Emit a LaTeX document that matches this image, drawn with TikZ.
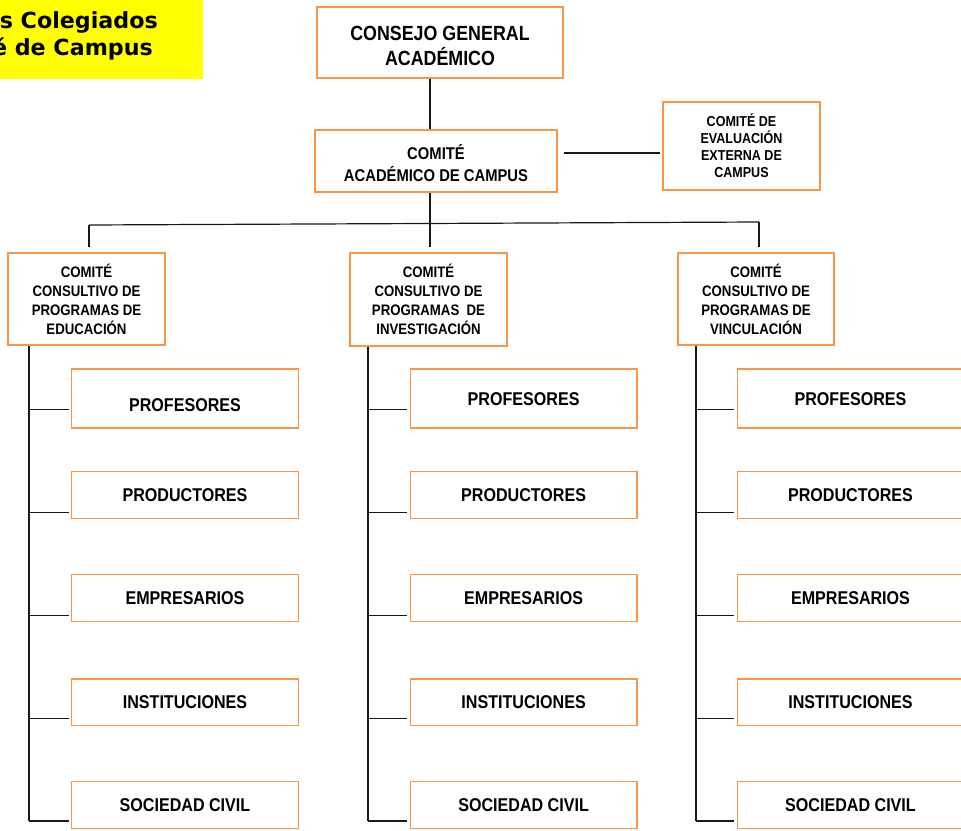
\documentclass[tikz,border=0pt]{standalone}
\usepackage{fontspec}
\newfontfamily\narrowsans[FakeStretch=0.87]{Liberation Sans}
\newfontfamily\titlesans{DejaVu Sans}
\definecolor{boxorange}{RGB}{247,150,70}
\definecolor{banner}{RGB}{255,255,0}
\begin{document}
\begin{tikzpicture}[x=1pt,y=-1pt,
  orgbox/.style={draw=boxorange, line width=1.3pt, fill=white, inner sep=0pt,
                 align=center, font=\narrowsans\bfseries},
  leafbox/.style={orgbox, minimum width=226.5pt,
                  font=\narrowsans\bfseries\fontsize{18.5}{20}\selectfont,
                  text height=13.2pt, text depth=0pt},
  midbox/.style={orgbox, minimum width=157pt, minimum height=92pt,
                 font=\narrowsans\bfseries\fontsize{15.2}{19}\selectfont},
  link/.style={line width=1.2pt, draw=black!90},
  cell1-1/.style={text height=25.2pt}]

\clip (0,0) rectangle (961,830);

% banner in the upper left corner
\fill[banner] (0,0) rectangle (203,79);
\begin{scope}
  \clip (0,0) rectangle (203,79);
  \node[anchor=base east, inner sep=0pt,
        font=\titlesans\bfseries\fontsize{22.2}{26}\selectfont] (ban1) at (158,28.3) {s Colegiados};
  \node[anchor=base east, inner sep=0pt,
        font=\titlesans\bfseries\fontsize{22.2}{26}\selectfont] (ban2) at (153,55) {é de Campus};
\end{scope}

% reference points for the connectors
\coordinate (spine) at (430,0);
\coordinate (evy) at (0,153);
\coordinate (busL) at (89,225);
\coordinate (busR) at (759,222);
\coordinate (dropL) at (89,247);
\coordinate (dropM) at (430,247);
\coordinate (dropR) at (759,247);
\coordinate (ybot) at (0,821);

% upper levels
\node[orgbox, minimum width=246pt, minimum height=71pt,
      font=\narrowsans\bfseries\fontsize{20.5}{25}\selectfont] (cga) at (440,42.5)
      {\rule{0pt}{21pt}CONSEJO GENERAL\\ACADÉMICO};
\node[orgbox, minimum width=242pt, minimum height=62pt,
      font=\narrowsans\bfseries\fontsize{17}{22}\selectfont] (cac) at (436,161)
      {\rule{0pt}{19.5pt}COMITÉ\\ACADÉMICO DE CAMPUS};
\node[orgbox, minimum width=157pt, minimum height=88pt,
      font=\narrowsans\bfseries\fontsize{14.4}{17}\selectfont] (cee) at (741.5,146)
      {COMITÉ DE\\EVALUACIÓN\\EXTERNA DE\\CAMPUS};

\node[midbox] (k1) at (86.5,299) {COMITÉ\\CONSULTIVO DE\\PROGRAMAS DE\\EDUCACIÓN};
\node[midbox, minimum height=93pt] (k2) at (428.5,299.5) {COMITÉ\\CONSULTIVO DE\\PROGRAMAS\ \ DE\\INVESTIGACIÓN};
\node[midbox, minimum width=156pt] (k3) at (756,299) {COMITÉ\\CONSULTIVO DE\\PROGRAMAS DE\\VINCULACIÓN};

% connectors between the upper levels
\draw[link] (cga.south -| spine) -- (cac.north -| spine);
\draw[link] (cac.south -| spine) -- (dropM);
\draw[link, shorten <=6pt, shorten >=2pt] (cac.east |- evy) -- (cee.west |- evy);
\draw[link] (busL) -- (busR);
\draw[link] (busL) -- (dropL);
\draw[link] (busR) -- (dropR);

% member boxes of each consultative committee
\foreach \c/\lx/\sx in {1/185/29, 2/523.6/368, 3/850.5/696} {
  \coordinate (sp\c) at (\sx,0);
  \draw[link] (k\c.south -| sp\c) -- (sp\c |- ybot);
  \foreach \r/\cy/\h/\sy/\txt in {1/398.5/59/409.3/PROFESORES,
                                  2/495/46.6/512.7/PRODUCTORES,
                                  3/598/47.4/615.7/EMPRESARIOS,
                                  4/702.3/46.7/718.3/INSTITUCIONES,
                                  5/805/46.6/821/SOCIEDAD CIVIL} {
    \node[leafbox, minimum height=\h pt, cell\c-\r/.try] (m\c-\r) at (\lx,\cy) {\txt};
    \coordinate (sy\c-\r) at (0,\sy);
    \draw[link, shorten >=2.4pt] (sp\c |- sy\c-\r) -- (m\c-\r.west |- sy\c-\r);
  }
}
\end{tikzpicture}
\end{document}
